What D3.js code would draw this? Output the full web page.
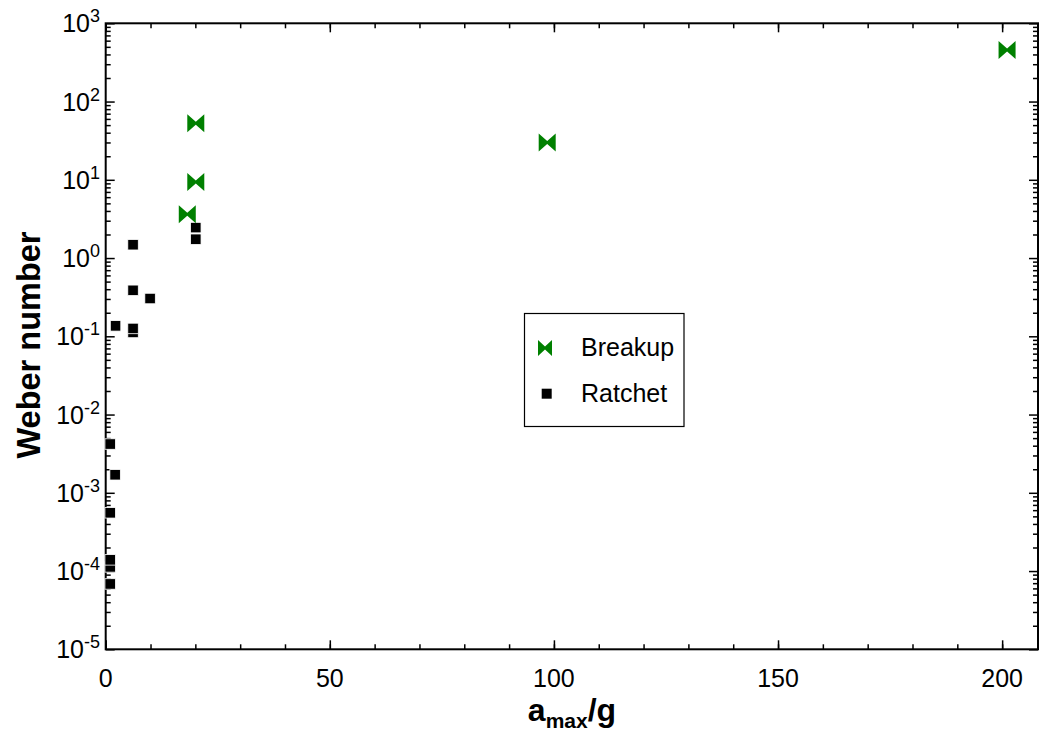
<!DOCTYPE html>
<html><head><meta charset="utf-8">
<script src="https://cdn.jsdelivr.net/npm/d3@7"></script>
<style>
body{margin:0;background:#fff;}
text{font-family:"Liberation Sans",Arial,sans-serif;}
</style></head>
<body><svg id="c" width="1040" height="731"></svg>
<script>
// ---- data ----
const breakupX = [18.2, 20.1, 20.1, 98.5, 201.1];
const breakupY = [3.62, 9.4, 52.7, 30, 456];
const ratchetX = [20.1, 20.1, 6.1, 6.1, 9.9, 2.2, 6.1, 6.1, 1.0, 2.1, 1.0, 1.0, 1.0, 1.0];
const ratchetY = [2.45, 1.74, 1.48, 0.387, 0.304, 0.136, 0.112, 0.126, 0.0042, 0.0017, 0.000555, 0.000113, 0.000139, 0.0000684];
const xMajorTicks = [0, 50, 100, 150, 200];
const xMinorTicks = d3.range(0, 210, 10);
const yDecades = [-5, -4, -3, -2, -1, 0, 1, 2, 3];
const seriesNames = ["Breakup", "Ratchet"];

// ---- layout ----
const L = 105.7, R = 1038, T = 23.3, B = 649.3;
const svg = d3.select("#c");
const x = d3.scaleLinear().domain([0, 208]).range([L, R]);
const y = d3.scaleLog().domain([1e-5, 1e3]).range([B, T]);

const yMajor = yDecades.map(k => Math.pow(10, k));
const yMinor = [];
yDecades.slice(0, -1).forEach(k => { for (let m = 2; m <= 9; m++) yMinor.push(m * Math.pow(10, k)); });

const green = "#008000";

function styleAxis(g){ g.select(".domain").remove(); g.selectAll("line").attr("stroke","#000").attr("stroke-width",1.5); g.selectAll("text").remove(); }

// x axes (bottom & top), ticks inward
svg.append("g").attr("transform",`translate(0,${B})`).call(d3.axisBottom(x).tickValues(xMinorTicks).tickSize(-5).tickFormat("")).call(styleAxis);
svg.append("g").attr("transform",`translate(0,${B})`).call(d3.axisBottom(x).tickValues(xMajorTicks).tickSize(-9).tickFormat("")).call(styleAxis);
svg.append("g").attr("transform",`translate(0,${T})`).call(d3.axisTop(x).tickValues(xMinorTicks).tickSize(-5).tickFormat("")).call(styleAxis);
svg.append("g").attr("transform",`translate(0,${T})`).call(d3.axisTop(x).tickValues(xMajorTicks).tickSize(-9).tickFormat("")).call(styleAxis);
// y axes (left & right)
svg.append("g").attr("transform",`translate(${L},0)`).call(d3.axisLeft(y).tickValues(yMinor).tickSize(-5).tickFormat("")).call(styleAxis);
svg.append("g").attr("transform",`translate(${L},0)`).call(d3.axisLeft(y).tickValues(yMajor).tickSize(-9).tickFormat("")).call(styleAxis);
svg.append("g").attr("transform",`translate(${R},0)`).call(d3.axisRight(y).tickValues(yMinor).tickSize(-5).tickFormat("")).call(styleAxis);
svg.append("g").attr("transform",`translate(${R},0)`).call(d3.axisRight(y).tickValues(yMajor).tickSize(-9).tickFormat("")).call(styleAxis);

// tick labels
svg.append("g").selectAll("text").data(xMajorTicks).join("text")
  .attr("x", d => x(d)).attr("y", B + 38).attr("text-anchor","middle")
  .attr("font-size", 25).text(d => d);
const yl = svg.append("g").selectAll("text").data(yDecades).join("text")
  .attr("x", 100).attr("y", d => y(Math.pow(10,d)) + 9).attr("text-anchor","end")
  .attr("font-size", 25);
yl.append("tspan").text("10");
yl.append("tspan").attr("dy", -10).attr("font-size", 18).text(d => d);

// frame
svg.append("rect").attr("x", L).attr("y", T).attr("width", R - L).attr("height", B - T)
  .attr("fill","none").attr("stroke","#000").attr("stroke-width",2);

// axis titles
const xt = svg.append("text").attr("x", 572).attr("y", 721).attr("text-anchor","middle")
  .attr("font-weight","bold").attr("font-size", 32);
xt.append("tspan").text("a");
xt.append("tspan").attr("dy", 7).attr("font-size", 21).text("max");
xt.append("tspan").attr("dy", -7).text("/g");
svg.append("text").attr("transform","translate(40,345) rotate(-90)").attr("text-anchor","middle")
  .attr("font-weight","bold").attr("font-size", 32.5).text("Weber number");

// markers
const bow = (w,h,k) => `M${-w},${-h}L0,${-k}L${w},${-h}L${w},${h}L0,${k}L${-w},${h}Z`;
const sq = 10.5;
svg.append("g").selectAll("rect").data(ratchetX.map((v,i)=>[v, ratchetY[i]])).join("rect")
  .attr("x", d => x(d[0]) - sq/2).attr("y", d => y(d[1]) - sq/2)
  .attr("width", sq).attr("height", sq).attr("fill","#000").attr("stroke","#fff").attr("stroke-width",0.8);
svg.append("g").selectAll("path").data(breakupX.map((v,i)=>[v, breakupY[i]])).join("path")
  .attr("transform", d => `translate(${x(d[0])},${y(d[1])})`)
  .attr("d", bow(8.5, 9, 1.5)).attr("fill", green);

// legend
const lg = svg.append("g");
lg.append("rect").attr("x", 524.5).attr("y", 313.5).attr("width", 159.5).attr("height", 113)
  .attr("fill","#fff").attr("stroke","#000").attr("stroke-width",1.2);
lg.append("path").attr("transform","translate(545,348)").attr("d", bow(7, 8, 1.5)).attr("fill", green);
lg.append("rect").attr("x", 546.7 - 5).attr("y", 393.7 - 5).attr("width", 10).attr("height", 10).attr("fill","#000");
lg.selectAll("text.lt").data(seriesNames).join("text").attr("class","lt")
  .attr("x", 581).attr("y", (d,i) => 356 + i * 46).attr("font-size", 25).text(d => d);
</script></body></html>
